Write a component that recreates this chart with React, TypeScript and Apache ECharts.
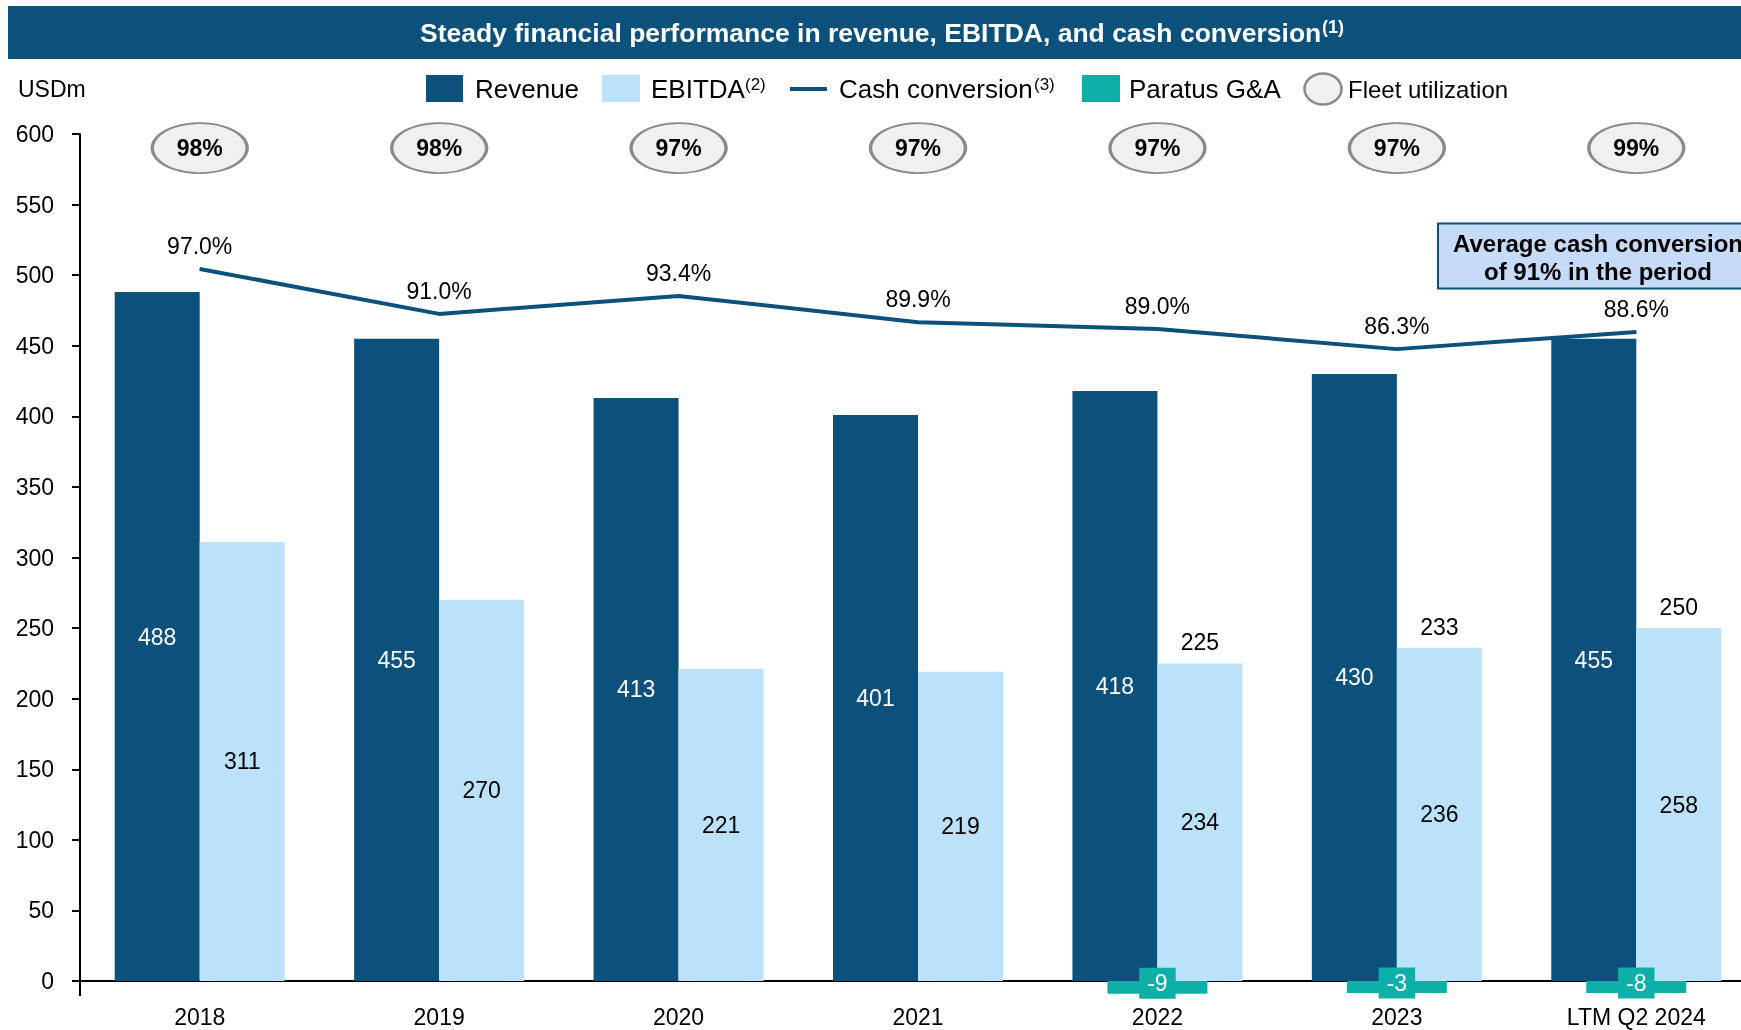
import React, { useEffect, useRef } from 'react';
import * as echarts from 'echarts';

const categories = ['2018', '2019', '2020', '2021', '2022', '2023', 'LTM Q2 2024'];
const revenue = [488, 455, 413, 401, 418, 430, 455];
const ebitdaBar = [311, 270, 221, 219, 225, 236, 250];
const ebitdaLabel = [311, 270, 221, 219, 234, 236, 258];
const ebitdaNet: (number | null)[] = [null, null, null, null, 225, 233, 250];
const paratusGA: (number | null)[] = [null, null, null, null, -9, -3, -8];
const cashConversion = [97.0, 91.0, 93.4, 89.9, 89.0, 86.3, 88.6];
const fleetUtilization = [98, 98, 97, 97, 97, 97, 99];

const Y_MIN = 0;
const Y_MAX = 600;
const Y_INTERVAL = 50;

const FONT = '"Liberation Sans", Arial, sans-serif';
const NAVY = '#0B517B';
const LIGHT = '#BBE2F8';
const TEAL = '#0DB0A8';

export default function App() {
  const ref = useRef<HTMLDivElement>(null);

  useEffect(() => {
    if (!ref.current) return;
    const chart = echarts.init(ref.current, undefined, { renderer: 'svg' });
    const UTIL_Y = 590;

    const txt = (x: number, y: number, text: string, size: number, opts: any = {}) => ({
      type: 'text',
      x,
      y,
      style: {
        text,
        fontSize: size,
        fontFamily: FONT,
        fill: opts.fill || '#000',
        fontWeight: opts.bold ? 'bold' : 'normal',
        align: opts.align || 'left',
        verticalAlign: 'middle',
      },
      z: 100,
    });

    const option: any = {
      animation: false,
      textStyle: { fontFamily: FONT },
      grid: {
        left: 80,
        top: 134,
        bottom: 49,
        right: -15,
        containLabel: false,
        outerBoundsMode: 'none',
      },
      xAxis: [
        {
          type: 'category',
          data: categories,
          axisLine: { lineStyle: { color: '#000', width: 2 } },
          axisTick: {
            show: true,
            length: 15,
            interval: (i: number) => i === 0,
            lineStyle: { color: '#000', width: 2 },
          },
          axisLabel: { fontSize: 23, color: '#000', margin: 24, interval: 0, fontFamily: FONT },
          splitLine: { show: false },
        },
        { type: 'category', data: categories, show: false },
      ],
      yAxis: [
        {
          type: 'value',
          min: Y_MIN,
          max: Y_MAX,
          interval: Y_INTERVAL,
          axisLine: { show: true, lineStyle: { color: '#000', width: 2 } },
          axisTick: { show: true, length: 8, lineStyle: { color: '#000', width: 2 } },
          axisLabel: { fontSize: 23, color: '#000', margin: 26, fontFamily: FONT },
          splitLine: { show: false },
        },
        { type: 'value', min: 2, max: 115, show: false, splitLine: { show: false } },
      ],
      series: [
        {
          name: 'Revenue',
          type: 'bar',
          xAxisIndex: 0,
          yAxisIndex: 0,
          data: revenue,
          barWidth: 85,
          barGap: '0%',
          itemStyle: { color: NAVY },
          label: { show: true, position: 'inside', color: '#fff', fontSize: 23, fontFamily: FONT },
          z: 2,
        },
        {
          name: 'EBITDA',
          type: 'bar',
          xAxisIndex: 0,
          yAxisIndex: 0,
          data: ebitdaBar,
          barWidth: 85,
          barGap: '0%',
          itemStyle: { color: LIGHT },
          label: {
            show: true,
            position: 'inside',
            color: '#000',
            fontSize: 23,
            fontFamily: FONT,
            formatter: (p: any) => String(ebitdaLabel[p.dataIndex]),
          },
          markPoint: {
            symbol: 'circle',
            symbolSize: 1,
            itemStyle: { color: 'rgba(0,0,0,0)' },
            label: {
              show: true,
              position: 'top',
              distance: 9,
              color: '#000',
              fontSize: 23,
              fontFamily: FONT,
              formatter: (p: any) => String(p.value),
            },
            data: ebitdaNet
              .map((v, i) => (v == null ? null : { coord: [categories[i], ebitdaBar[i]], value: v }))
              .filter((d) => d != null),
          },
          z: 2,
        },
        {
          name: 'Paratus G&A',
          type: 'bar',
          xAxisIndex: 1,
          yAxisIndex: 0,
          data: paratusGA,
          barWidth: 100,
          barMinHeight: 12,
          clip: false,
          itemStyle: { color: TEAL },
          label: {
            show: true,
            position: 'inside',
            color: '#fff',
            fontSize: 23,
            fontFamily: FONT,
            backgroundColor: TEAL,
            padding: [4, 8],
            offset: [0, -4],
          },
          z: 4,
        },
        {
          name: 'Cash conversion',
          type: 'line',
          xAxisIndex: 0,
          yAxisIndex: 1,
          data: cashConversion,
          symbol: 'circle',
          symbolSize: 1,
          itemStyle: { color: NAVY },
          lineStyle: { color: NAVY, width: 4 },
          label: {
            show: true,
            position: 'top',
            distance: 11,
            color: '#000',
            fontSize: 23,
            fontFamily: FONT,
            formatter: (p: any) => Number(p.value).toFixed(1) + '%',
          },
          z: 5,
        },
        {
          name: 'Fleet utilization',
          type: 'scatter',
          xAxisIndex: 0,
          yAxisIndex: 0,
          data: fleetUtilization.map((_, i) => [i, UTIL_Y]),
          symbol: 'circle',
          symbolSize: [95, 50],
          itemStyle: { color: '#F0F0F0', borderColor: '#8A8A8A', borderWidth: 2.5, opacity: 1 },
          label: {
            show: true,
            position: 'inside',
            color: '#000',
            fontSize: 23,
            fontWeight: 'bold',
            fontFamily: FONT,
            formatter: (p: any) => fleetUtilization[p.dataIndex] + '%',
          },
          z: 10,
        },
      ],
      graphic: [
        { type: 'rect', shape: { x: 8, y: 6, width: 1740, height: 53 }, style: { fill: NAVY }, z: 90 },
        txt(420, 33, 'Steady financial performance in revenue, EBITDA, and cash conversion', 26.5, {
          fill: '#fff',
          bold: true,
        }),
        txt(1322, 27, '(1)', 18, { fill: '#fff', bold: true }),
        // legend
        txt(18, 89, 'USDm', 23),
        { type: 'rect', shape: { x: 426, y: 75, width: 37, height: 27 }, style: { fill: NAVY }, z: 100 },
        txt(475, 89, 'Revenue', 26),
        { type: 'rect', shape: { x: 602, y: 75, width: 38, height: 27 }, style: { fill: LIGHT }, z: 100 },
        txt(651, 89, 'EBITDA', 26),
        txt(745, 84, '(2)', 17),
        {
          type: 'line',
          shape: { x1: 790, y1: 89, x2: 827, y2: 89 },
          style: { stroke: NAVY, lineWidth: 4 },
          z: 100,
        },
        txt(839, 89, 'Cash conversion', 26),
        txt(1034, 84, '(3)', 17),
        { type: 'rect', shape: { x: 1082, y: 75, width: 38, height: 27 }, style: { fill: TEAL }, z: 100 },
        txt(1129, 89, 'Paratus G&A', 26),
        {
          type: 'ellipse',
          shape: { cx: 1323, cy: 89, rx: 18.5, ry: 15.5 },
          style: { fill: '#F0F0F0', stroke: '#8A8A8A', lineWidth: 2.5 },
          z: 100,
        },
        txt(1348, 89, 'Fleet utilization', 24),
        // annotation
        {
          type: 'rect',
          shape: { x: 1438, y: 223.5, width: 330, height: 65 },
          style: { fill: '#C5DBF7', stroke: NAVY, lineWidth: 2 },
          z: 100,
        },
        txt(1598, 243.5, 'Average cash conversion', 24, { bold: true, align: 'center' }),
        txt(1598, 271.5, 'of 91% in the period', 24, { bold: true, align: 'center' }),
      ],
    };

    chart.setOption(option);
    return () => chart.dispose();
  }, []);

  return <div ref={ref} style={{ position: 'fixed', left: 0, top: 0, width: 1741, height: 1030 }} />;
}
